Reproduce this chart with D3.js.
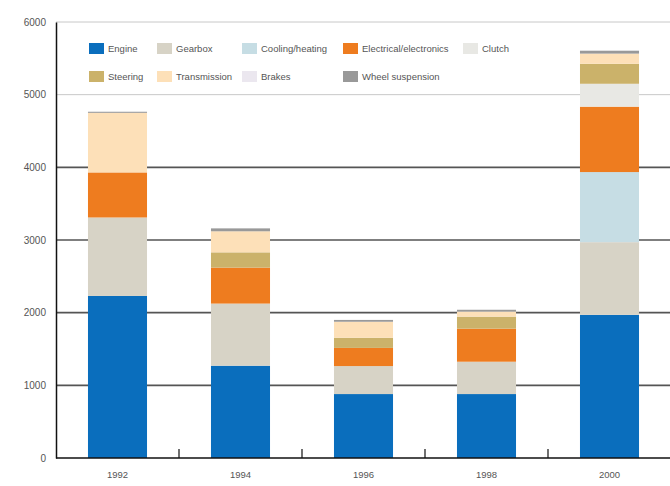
<!DOCTYPE html>
<html>
<head>
<meta charset="utf-8">
<script src="https://cdn.jsdelivr.net/npm/d3@7"></script>
<style>
  body { margin: 0; background: #fff; }
  svg text { font-family: "Liberation Sans", Arial, sans-serif; fill: #555; }
</style>
</head>
<body>
<div class="chart"></div>
<script>
const years = ["1992", "1994", "1996", "1998", "2000"];
const parts = ["Engine", "Gearbox", "Cooling/heating", "Electrical/electronics", "Clutch",
  "Steering", "Transmission", "Brakes", "Wheel suspension"];
const partColors = ["#0a6ebd", "#d7d3c6", "#c6dde4", "#ee7c1f", "#e8e8e4",
  "#cbb26a", "#fde0b8", "#ebe7ef", "#999999"];

// values per part, one entry per year
const engine      = [2230, 1270, 880, 880, 1970];
const gearbox     = [1080, 855, 385, 445, 1000];
const cooling     = [0, 0, 0, 0, 965];
const electrical  = [620, 495, 250, 455, 900];
const clutch      = [0, 0, 0, 0, 315];
const steering    = [0, 210, 140, 165, 275];
const transmission = [820, 290, 220, 70, 140];
const brakes      = [0, 0, 0, 0, 0];
const wheel       = [15, 40, 25, 25, 40];
const yTicks = [0, 1000, 2000, 3000, 4000, 5000, 6000];

const W = 670, H = 486;
const M = { left: 56, right: 0, top: 22, bottom: 28 };

const series = [engine, gearbox, cooling, electrical, clutch, steering, transmission, brakes, wheel];
const rows = years.map((y, i) => {
  const r = { year: y };
  parts.forEach((p, j) => r[p] = series[j][i]);
  return r;
});

const svg = d3.select(".chart").append("svg").attr("width", W).attr("height", H);

const x = d3.scaleBand()
  .domain(years)
  .range([M.left, M.left + 123 * years.length])
  .paddingInner(0.52)
  .paddingOuter(0.26);

const y = d3.scaleLinear()
  .domain([0, 6000])
  .range([H - M.bottom, M.top]);

// gridlines
svg.append("g")
  .selectAll("line")
  .data(yTicks.filter(d => d > 0))
  .join("line")
  .attr("x1", M.left)
  .attr("x2", W)
  .attr("y1", d => y(d))
  .attr("y2", d => y(d))
  .attr("stroke", d => d >= 5000 ? "#c8c8c8" : "#555")
  .attr("stroke-width", d => d >= 5000 ? 1 : 1.6);

// stacked bars
const stack = d3.stack().keys(parts)(rows);
const color = d3.scaleOrdinal().domain(parts).range(partColors);

svg.append("g")
  .selectAll("g")
  .data(stack)
  .join("g")
  .attr("fill", d => color(d.key))
  .selectAll("rect")
  .data(d => d)
  .join("rect")
  .attr("x", d => x(d.data.year))
  .attr("width", x.bandwidth())
  .attr("y", d => y(d[1]))
  .attr("height", d => y(d[0]) - y(d[1]));

// y axis
const yAxis = svg.append("g")
  .attr("transform", `translate(${M.left},0)`)
  .call(d3.axisLeft(y).tickValues(yTicks).tickSize(0).tickPadding(10).tickFormat(d3.format("d")));
yAxis.select(".domain").attr("stroke", "#111").attr("stroke-width", 1.5);
yAxis.selectAll("text").attr("font-size", 10).style("fill", "#555");

// x axis: ticks between bands
const xAxis = svg.append("g")
  .attr("transform", `translate(0,${H - M.bottom})`);
xAxis.append("line")
  .attr("x1", M.left).attr("x2", W)
  .attr("stroke", "#111").attr("stroke-width", 1.5);
xAxis.selectAll(".sep")
  .data(years.slice(1).concat(["end"]))
  .join("line")
  .attr("class", "sep")
  .attr("x1", (d, i) => M.left + x.step() * (i + 1))
  .attr("x2", (d, i) => M.left + x.step() * (i + 1))
  .attr("y1", 0).attr("y2", -9)
  .attr("stroke", "#111").attr("stroke-width", 1.2);
xAxis.selectAll(".lbl")
  .data(years)
  .join("text")
  .attr("class", "lbl")
  .attr("x", d => x(d) + x.bandwidth() / 2)
  .attr("y", 20)
  .attr("text-anchor", "middle")
  .attr("font-size", 9.5)
  .text(d => d);

// legend
const legendX = [89, 157, 242, 343, 463];
const legend = svg.append("g")
  .selectAll("g")
  .data(parts)
  .join("g")
  .attr("transform", (d, i) => `translate(${legendX[i % 5]},${i < 5 ? 43 : 71})`);
legend.append("rect")
  .attr("width", 15).attr("height", 11)
  .attr("fill", d => color(d));
legend.append("text")
  .attr("x", 19).attr("y", 9)
  .attr("font-size", 9.5)
  .text(d => d);
</script>
</body>
</html>
